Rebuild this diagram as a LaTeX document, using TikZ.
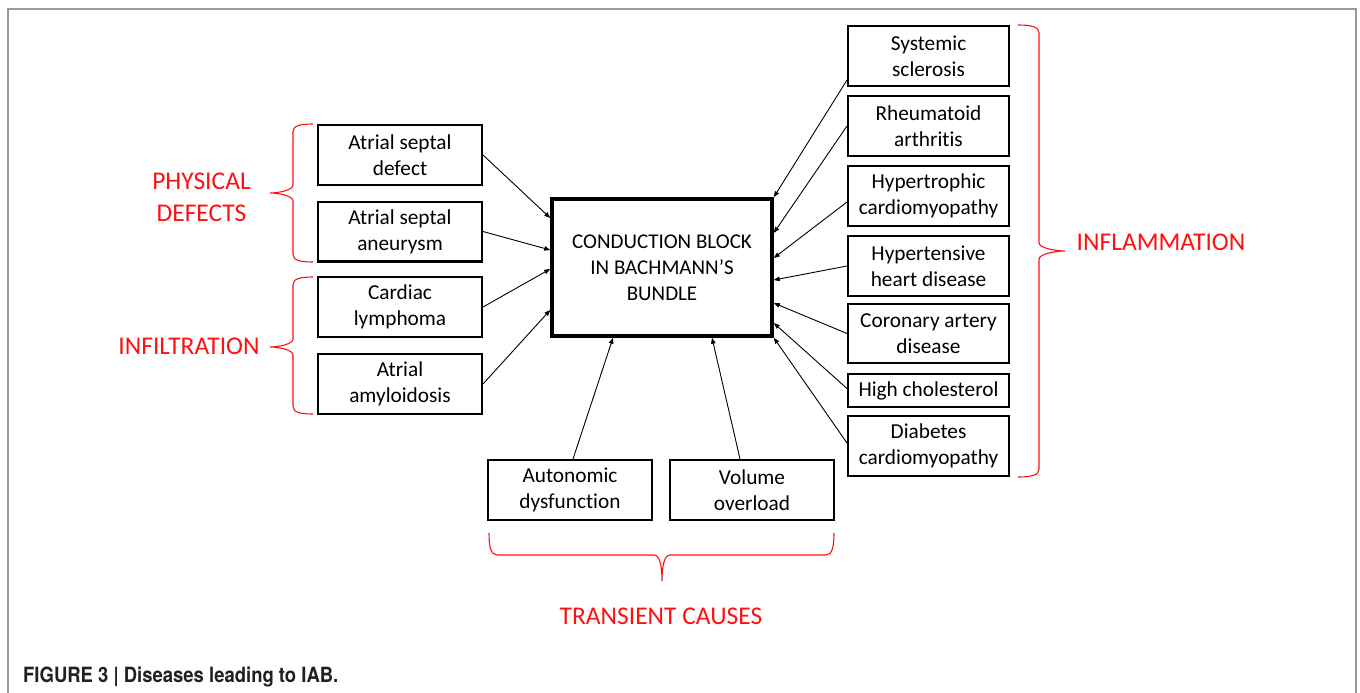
\documentclass[tikz,border=0pt]{standalone}
\usepackage{fontspec}
\setmainfont{Carlito}[Ligatures=NoCommon]
\setsansfont{TeX Gyre Heros}
\usetikzlibrary{arrows.meta,calc}

\definecolor{grpred}{RGB}{255,16,16}
\definecolor{capgray}{RGB}{35,31,32}
\tikzset{
  cause/.style={draw,line width=2.3pt,minimum width=163.7pt,minimum height=59.7pt,
    inner sep=2pt,align=center,font=\fontsize{21.3}{26}\selectfont},
  rcause/.style={cause,minimum width=160.7pt},
  feed/.style={-{Triangle[length=6pt,width=4.5pt]},line width=0.9pt},
  grp/.style={grpred,font=\fontsize{25.5}{32}\selectfont,align=center,inner sep=0pt},
  curly/.style={grpred,line width=1.1pt}
}

\begin{document}
\begin{tikzpicture}[x=1pt,y=-1pt]
\useasboundingbox (0,0) rectangle (1360,693);
\draw[gray!80,line width=1.2pt] (8,700) -- (8,9) -- (1356,9) -- (1356,700);

% the block itself
\node[draw,line width=3.5pt,minimum width=220pt,minimum height=137pt,align=center,
  font=\fontsize{21}{26}\selectfont] (block) at (662,267.5)
  {CONDUCTION BLOCK\\IN BACHMANN’S\\BUNDLE};

% left column
\node[cause] (asd) at (400,155) {Atrial septal\\defect};
\node[cause] (asa) at (400,231.5) {Atrial septal\\aneurysm};
\node[cause] (lymph) at (400,307) {Cardiac\\lymphoma};
\node[cause] (amyl) at (400,384) {Atrial\\amyloidosis};

% right column
\node[rcause] (ssc) at (928.5,56) {Systemic\\sclerosis};
\node[rcause] (ra) at (928.5,126) {Rheumatoid\\arthritis};
\node[rcause] (hcm) at (928.5,196) {Hypertrophic\\cardiomyopathy};
\node[rcause] (hhd) at (928.5,266) {Hypertensive\\heart disease};
\node[rcause,minimum height=58.7pt] (cad) at (928.5,333.5) {Coronary artery\\disease};
\node[rcause,minimum height=32.7pt] (chol) at (928.5,390.5) {High cholesterol};
\node[rcause] (dcm) at (928.5,446) {Diabetes\\cardiomyopathy};

% bottom row
\node[cause] (auto) at (570,490) {Autonomic\\dysfunction};
\node[cause] (vol) at (752,490) {Volume\\overload};

% arrows in
\draw[feed] (asd.east) -- ($(block.west)+(0,-49.5)$);
\draw[feed] (asa.east) -- ($(block.west)+(0,-17.5)$);
\draw[feed] (lymph.east) -- ($(block.west)+(0,1.5)$);
\draw[feed] (amyl.east) -- ($(block.west)+(0,42.5)$);
\draw[feed] ($(ssc.west)+(0,24)$) -- (block.north east);
\draw[feed] (ra.west) -- ($(block.east)+(0,-34.5)$);
\draw[feed] ($(hcm.west)+(0,6)$) -- ($(block.east)+(0,-9.5)$);
\draw[feed] (hhd.west) -- ($(block.east)+(0,12.5)$);
\draw[feed] (cad.west) -- ($(block.east)+(0,35.5)$);
\draw[feed] ($(chol.west)+(0,-2)$) -- ($(block.east)+(0,55.5)$);
\draw[feed] ($(dcm.west)+(0,-3)$) -- (block.south east);
\draw[feed] ($(auto.north)+(3,0)$) -- ($(block.south)+(-49,0)$);
\draw[feed] ($(vol.north)+(-12,0)$) -- ($(block.south)+(50,0)$);

% braces
\def\cl{14}
\def\tp{9}
\draw[curly] (313,124) .. controls +(-\cl,0) and +(0,-6) .. (293,132)
  -- (293,185) .. controls +(0,5) and +(\tp,0) .. (270,193)
  .. controls +(\tp,0) and +(0,-5) .. (293,201)
  -- (293,254) .. controls +(0,6) and +(-\cl,0) .. (313,262);
\draw[curly] (313,277) .. controls +(-\cl,0) and +(0,-6) .. (293,285)
  -- (293,339) .. controls +(0,5) and +(\tp,0) .. (270,347)
  .. controls +(\tp,0) and +(0,-5) .. (293,355)
  -- (293,406) .. controls +(0,6) and +(-\cl,0) .. (313,414);
\draw[curly] (1018,25) .. controls +(\cl,0) and +(0,-6) .. (1039,33)
  -- (1039,243) .. controls +(0,5) and +(-\tp,0) .. (1065,251)
  .. controls +(-\tp,0) and +(0,-5) .. (1039,259)
  -- (1039,469) .. controls +(0,6) and +(\cl,0) .. (1018,477);
\draw[curly] (489,533) .. controls +(0,\cl) and +(-6,0) .. (497,555)
  -- (654,555) .. controls +(6,0) and +(0,-14) .. (662,581)
  .. controls +(0,-14) and +(-6,0) .. (670,555)
  -- (826,555) .. controls +(6,0) and +(0,\cl) .. (834,533);

% group labels
\node[grp] (phys) at (201.5,197.5) {PHYSICAL\\DEFECTS};
\node[grp] (infil) at (189,346.5) {INFILTRATION};
\node[grp] (infl) at (1161,242) {INFLAMMATION};
\node[grp] (trans) at (661,616) {TRANSIENT CAUSES};

\node[anchor=base west,inner sep=0pt,capgray,font=\sffamily\bfseries\fontsize{21}{24}\selectfont]
  (cap) at (23,682) {\scalebox{0.88}[1]{FIGURE 3 | Diseases leading to IAB.}};
\end{tikzpicture}
\end{document}
